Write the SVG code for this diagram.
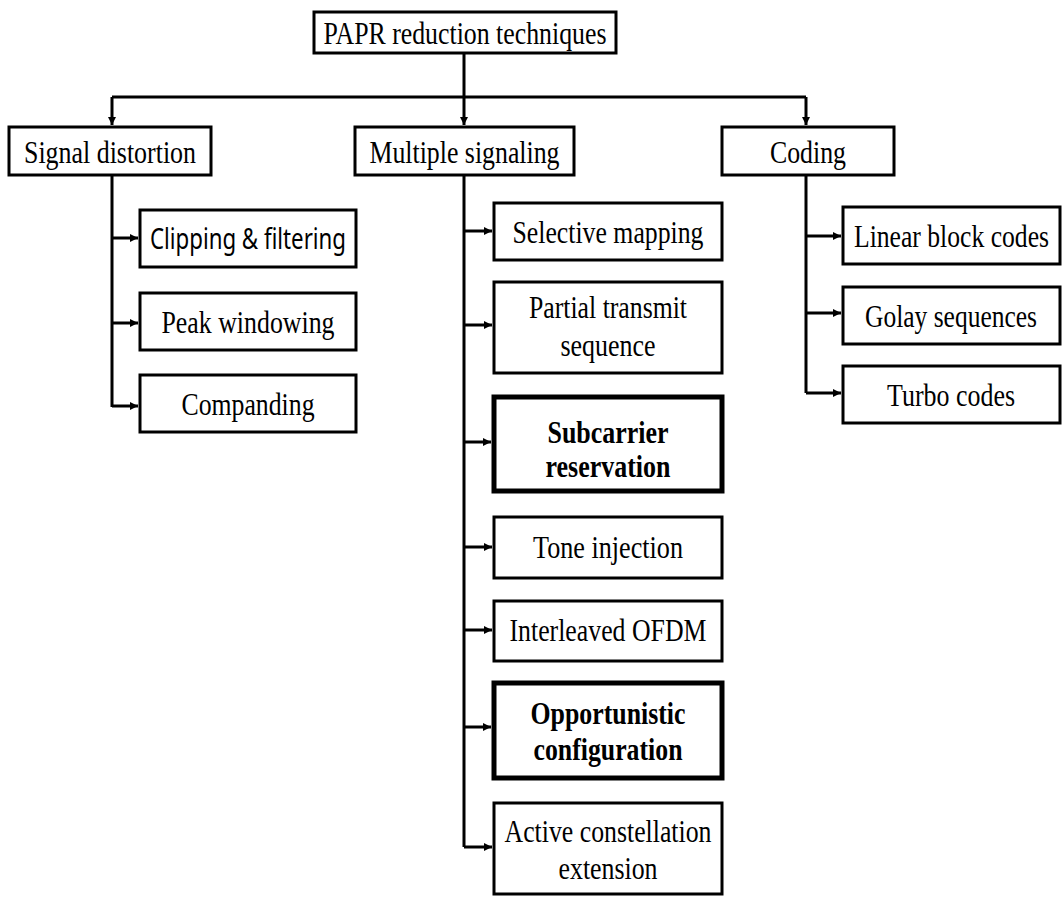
<svg xmlns="http://www.w3.org/2000/svg" width="1063" height="898" viewBox="0 0 1063 898">
<defs>
<style>
.b{fill:#fff;stroke:#000;stroke-width:3}
.bt{fill:#fff;stroke:#000;stroke-width:5}
.t{font-family:"Liberation Serif","Times New Roman",serif;font-size:32px;fill:#000;text-anchor:middle}
.tr{font-family:"Liberation Serif","Times New Roman",serif;font-size:31px;fill:#000;text-anchor:end}
.tb{font-family:"Liberation Serif","Times New Roman",serif;font-size:32px;font-weight:bold;fill:#000;text-anchor:middle}
.ts{font-family:"Noto Sans","Open Sans",sans-serif;font-size:29px;fill:#000;text-anchor:middle}
.c{fill:none;stroke:#000;stroke-width:3}
.a{fill:none;stroke:#000;stroke-width:3;marker-end:url(#ah)}
</style>
<marker id="ah" markerUnits="userSpaceOnUse" markerWidth="10" markerHeight="10" refX="8" refY="4" orient="auto">
<path d="M0,0 L8,4 L0,8 z" fill="#000"/>
</marker>
</defs>
<rect width="1063" height="898" fill="#fff"/>
<g id="connectors">
<path class="c" d="M464 53 V97 M112 97 H806 M112 175 V407 M464 175 V847 M806 175 V393"/>
<path class="a" d="M112 97 V125"/>
<path class="a" d="M464 97 V125"/>
<path class="a" d="M806 97 V125"/>
<path class="a" d="M112 238 H138"/>
<path class="a" d="M112 323 H138"/>
<path class="a" d="M112 406 H138"/>
<path class="a" d="M464 231 H492"/>
<path class="a" d="M464 325 H492"/>
<path class="a" d="M464 442 H491"/>
<path class="a" d="M464 547 H492"/>
<path class="a" d="M464 630 H492"/>
<path class="a" d="M464 727 H491"/>
<path class="a" d="M464 847 H492"/>
<path class="a" d="M806 236 H841"/>
<path class="a" d="M806 313 H841"/>
<path class="a" d="M806 393 H841"/>
</g>
<g id="papr"><rect class="b" x="314" y="12" width="302" height="41"/><text class="t" x="465" y="44" textLength="283" lengthAdjust="spacingAndGlyphs">PAPR reduction techniques</text></g>
<g id="signal-distortion"><rect class="b" x="9" y="127" width="202" height="48"/><text class="t" x="110" y="163" textLength="172" lengthAdjust="spacingAndGlyphs">Signal distortion</text></g>
<g id="multiple-signaling"><rect class="b" x="355" y="127" width="219" height="48"/><text class="t" x="464.5" y="163" textLength="190" lengthAdjust="spacingAndGlyphs">Multiple signaling</text></g>
<g id="coding"><rect class="b" x="722" y="127" width="172" height="48"/><text class="t" x="808" y="163" textLength="76" lengthAdjust="spacingAndGlyphs">Coding</text></g>
<g id="clipping"><rect class="b" x="140" y="210" width="216" height="57"/><text class="ts" x="248" y="249" textLength="196" lengthAdjust="spacingAndGlyphs">Clipping &amp; filtering</text></g>
<g id="peak-windowing"><rect class="b" x="140" y="293" width="216" height="57"/><text class="t" x="248" y="333" textLength="173" lengthAdjust="spacingAndGlyphs">Peak windowing</text></g>
<g id="companding"><rect class="b" x="140" y="375" width="216" height="57"/><text class="t" x="248" y="415" textLength="133" lengthAdjust="spacingAndGlyphs">Companding</text></g>
<g id="selective-mapping"><rect class="b" x="494" y="203" width="228" height="57"/><text class="t" x="608" y="243" textLength="191" lengthAdjust="spacingAndGlyphs">Selective mapping</text></g>
<g id="pts"><rect class="b" x="494" y="282" width="228" height="91"/><text class="t" x="608" y="318" textLength="158" lengthAdjust="spacingAndGlyphs">Partial transmit</text><text class="t" x="608" y="356" textLength="95" lengthAdjust="spacingAndGlyphs">sequence</text></g>
<g id="subcarrier-reservation"><rect class="bt" x="494" y="397" width="228" height="94"/><text class="tb" x="608" y="443" textLength="121" lengthAdjust="spacingAndGlyphs">Subcarrier</text><text class="tb" x="608" y="477" textLength="125" lengthAdjust="spacingAndGlyphs">reservation</text></g>
<g id="tone-injection"><rect class="b" x="494" y="517" width="228" height="61"/><text class="t" x="608" y="558" textLength="150" lengthAdjust="spacingAndGlyphs">Tone injection</text></g>
<g id="interleaved-ofdm"><rect class="b" x="494" y="601" width="228" height="60"/><text class="t" x="608" y="641" textLength="197" lengthAdjust="spacingAndGlyphs">Interleaved OFDM</text></g>
<g id="opportunistic-configuration"><rect class="bt" x="494" y="683" width="228" height="95"/><text class="tb" x="608" y="724" textLength="155" lengthAdjust="spacingAndGlyphs">Opportunistic</text><text class="tb" x="608" y="760" textLength="149" lengthAdjust="spacingAndGlyphs">configuration</text></g>
<g id="ace"><rect class="b" x="494" y="803" width="228" height="91"/><text class="t" x="608" y="842" textLength="207" lengthAdjust="spacingAndGlyphs">Active constellation</text><text class="t" x="608" y="879" textLength="99" lengthAdjust="spacingAndGlyphs">extension</text></g>
<g id="linear-block-codes"><rect class="b" x="843" y="207" width="217" height="57"/><text class="tr" x="1049" y="247" textLength="195" lengthAdjust="spacingAndGlyphs">Linear block codes</text></g>
<g id="golay-sequences"><rect class="b" x="843" y="287" width="217" height="57"/><text class="tr" x="1037" y="327" textLength="172" lengthAdjust="spacingAndGlyphs">Golay sequences</text></g>
<g id="turbo-codes"><rect class="b" x="843" y="366" width="217" height="57"/><text class="t" x="951" y="406" textLength="128" lengthAdjust="spacingAndGlyphs">Turbo codes</text></g>
</svg>
